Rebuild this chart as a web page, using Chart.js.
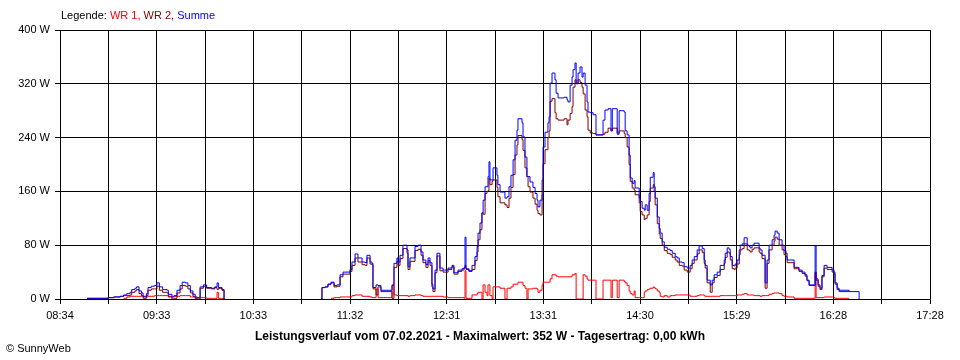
<!DOCTYPE html>
<html><head><meta charset="utf-8">
<script src="https://cdn.jsdelivr.net/npm/chart.js@4/dist/chart.umd.min.js"></script>
<style>
html,body{margin:0;padding:0;background:#fff;}
#wrap{position:relative;width:960px;height:360px;overflow:hidden;}
canvas{position:absolute;left:0;top:0;}
.txt{position:absolute;font-family:"Liberation Sans",Arial,sans-serif;font-size:11px;line-height:13px;white-space:nowrap;color:#000;}
</style></head><body>
<div id="wrap">
<canvas id="c" width="960" height="360"></canvas>
<div class="txt" style="left:61px;top:9px">Legende: <span style="color:#ff0000">WR 1,</span> <span style="color:#800000">WR 2,</span> <span style="color:#0000ff">Summe</span></div>
<div class="txt" style="left:480px;top:329px;transform:translateX(-50%);font-weight:bold;font-size:12px;line-height:14px">Leistungsverlauf vom 07.02.2021 - Maximalwert: 352 W - Tagesertrag: 0,00 kWh</div>
<div class="txt" style="left:6px;top:342px">© SunnyWeb</div>
</div>
<script>
// x tick labels (every second grid line is labelled)
const xTickLabels = ['08:34','09:33','10:33','11:32','12:31','13:31','14:30','15:29','16:28','17:28'];
const yTickStep = 80;
// minutes after 08:34
const minutes = [
  16.6,29.5,33,37,39,41,43,44,46,47,
  48.5,50,51,53,54,56,58,59.5,61,63,
  65.7,66.5,68.7,70,71.8,73.7,75,77,78.5,80,
  81.6,83,84.1,86,88,90,93,95,96.4,97.2,
  99.4,100.7,130,
  160.2,160.8,162.7,164.5,166.3,168.2,170.0,171.9,173.7,176.2,
  178.0,179.2,181.1,182.9,185.4,187.2,188.4,190.3,191.5,192.1,
  194.0,195.2,197.0,203.8,205.0,206.8,207.5,208.7,210.5,213.0,
  213.6,214.8,217.9,219.7,221.6,222.8,224.6,225.9,227.1,228.3,
  228.9,230.2,231.4,233.2,235.1,238.2,240.6,241.8,244.3,246.7,
  248.0,248.6,249.2,251.0,252.9,254.7,256.0,256.6,257.8,259.0,
  259.7,260.9,262.1,262.7,263.3,263.9,265.2,265.8,268.2,268.8,
  270.1,273.1,274.4,275.6,276.8,278.1,279.3,280.5,281.1,283.6,
  284.2,285.4,286.6,287.3,288.5,290.3,291.6,292.8,293.4,294.6,
  295.9,296.5,297.7,299.5,300.2,300.8,302.0,303.8,304.5,305.7,
  309.4,311.2,311.8,313.1,314.3,314.9,316.1,316.8,318.0,319.2,
  320.4,321.1,322.3,323.5,324.1,325.4,327.2,329.0,333.3,334.5,
  336.4,338.2,339.0,342.0,343.2,346.3,346.9,348.1,349.3,350.0,
  351.2,352.4,353.0,355.5,356.1,357.3,358.6,359.2,360.4,361.6,
  362.3,364.1,364.7,365.3,366.6,367.8,368.4,369.6,370.9,372.7,
  374.5,375.8,377.6,378.8,380.1,381.9,383.1,385.0,386.8,388.0,
  389.3,391.1,392.3,394.2,395.4,396.0,397.2,399.1,400.3,401.5,
  403.4,405.2,407.7,408.3,409.5,410.7,411.4,412.6,413.8,414.4,
  415.6,416.9,417.5,418.7,419.9,421.8,423.0,423.6,424.8,426.0,
  429.1,429.7,430.9,432.8,434.0,435.2,437.1,438.3,438.9,440.2,
  441.4,443.2,444.4,445.6,446.3,450.6,453.6,455.5,457.3,458.5,
  459.8,463.5,464.1,465.3,466.5,467.7,469.0,470.8,473.9,475.1,
  475.7,477.0,478.2,484.4,490.5
];
// Summe (W)
const summe = [
  1,2,3,4,6,8,10,14,16,18,
  12,9,4,8,17,19,20,24,18,14,
  13,7,3,5,13,20,25,24,20,12,
  7,3,2,18,21,17,16,18,24,17,
  14,0,null,
  0,17,18,22,25,20,21,36,40,40,
  44,55,67,61,55,54,65,55,53,17,
  21,20,13,21,53,61,55,65,80,73,
  48,61,78,80,70,58,51,61,54,22,
  15,43,68,46,43,46,50,39,43,45,
  47,92,45,42,50,63,78,98,113,128,
  147,167,167,182,204,177,177,195,184,170,
  159,150,152,167,184,207,236,251,268,262,
  241,211,182,182,174,166,157,147,137,147,
  177,226,248,262,271,321,336,326,306,299,
  300,296,293,318,330,341,351,321,336,345,
  330,336,318,293,278,277,274,244,266,281,
  283,250,283,245,280,278,250,244,214,180,
  172,176,165,150,145,135,132,140,132,157,
  181,188,167,150,122,105,98,85,77,74,
  72,68,63,61,55,54,48,46,50,58,
  63,73,79,75,58,50,28,21,28,36,
  40,50,58,68,76,74,63,50,49,52,
  58,73,80,82,91,80,78,76,80,83,
  76,73,65,24,58,80,88,95,101,98,
  88,80,72,68,58,47,43,40,36,28,
  21,79,30,21,16,35,50,47,43,40,
  24,16,13,11,0
];
// WR 2 (W)
const wr2 = [
  1,2,3,4,5,5,6,10,12,14,
  8,5,1,5,13,15,15,19,13,10,
  9,3,0,1,9,15,20,19,15,9,
  4,1,0,16,19,16,15,17,14,16,
  13,0,null,
  0,17,18,22,24,18,19,33,37,37,
  41,50,61,55,51,50,61,52,51,15,
  6,18,11,1,47,56,50,60,75,68,
  44,56,72,74,65,54,47,57,50,18,
  11,39,64,42,40,44,48,37,41,43,
  46,50,44,41,44,57,70,88,103,128,
  126,157,160,161,180,170,175,177,166,152,
  143,140,136,150,166,185,214,229,243,237,
  221,195,182,167,159,150,141,132,127,125,
  155,201,222,240,250,294,298,277,268,266,
  268,259,266,276,286,315,326,320,326,322,
  315,305,281,271,251,247,246,244,245,248,
  254,250,254,247,250,246,240,226,200,175,
  165,162,155,143,130,125,118,120,125,145,
  165,170,160,140,112,97,90,80,72,68,
  66,62,58,55,50,49,43,40,45,53,
  58,67,73,69,53,46,24,10,24,32,
  35,44,53,62,70,68,58,45,44,46,
  52,66,73,75,82,73,72,70,74,76,
  70,68,60,16,53,73,80,86,92,89,
  80,73,66,63,54,45,41,38,34,27,
  20,40,28,19,14,33,46,44,40,37,
  22,14,11,11,null
];
// WR 1 (W)
const wr1 = [
  null,null,null,null,1,3,4,4,4,4,
  4,4,3,3,4,4,5,5,5,5,
  5,4,4,4,4,5,5,5,5,3,
  3,2,2,2,2,1,1,1,10,1,
  1,0,null,
  null,null,null,null,1,2,2,3,3,3,
  3,5,6,6,4,4,4,3,2,2,
  15,2,2,20,6,5,5,5,5,5,
  4,5,6,6,5,4,4,4,4,4,
  4,4,4,4,3,2,2,2,2,2,
  1,42,1,1,6,6,8,10,10,0,
  21,10,5,21,21,5,0,18,18,18,
  16,0,16,16,18,22,22,22,25,25,
  20,16,0,15,15,16,16,15,10,13,
  21,25,25,25,25,30,36,36,34,33,
  33,33,33,33,36,36,38,0,0,0,
  0,36,34,30,28,28,28,0,28,28,
  28,2,28,2,28,26,24,20,12,8,
  6,12,2,2,2,2,10,12,14,15,
  16,18,17,15,12,10,4,3,5,3,
  5,5,6,6,6,6,6,6,4,4,
  4,5,6,6,5,4,4,4,4,4,
  4,5,5,5,5,5,5,5,5,5,
  6,6,6,7,8,6,6,6,6,5,
  5,4,5,5,5,7,8,9,9,9,
  8,5,4,4,3,1,1,1,1,1,
  1,39,2,2,2,2,3,3,3,2,
  1,1,1,1,null
];

const xMax = 534; // 08:34 .. 17:28 in minutes
const gridCount = 18;

function pts(arr){ return minutes.map((t,i)=>({x:t, y:arr[i]})); }

const font = {family:'"Liberation Sans", Arial, sans-serif', size:11};

new Chart(document.getElementById('c'), {
  type:'line',
  data:{datasets:[
    {label:'Summe', data:pts(summe), borderColor:'#0000ff', order:0},
    {label:'WR 2', data:pts(wr2), borderColor:'#800000', order:1},
    {label:'WR 1', data:pts(wr1), borderColor:'#ff0000', order:2}
  ]},
  options:{
    responsive:false, animation:false, devicePixelRatio:1,
    layout:{padding:{left:0,right:30,top:30,bottom:36}},
    elements:{line:{borderWidth:1, stepped:'before', fill:false, tension:0}, point:{radius:0}},
    spanGaps:false,
    plugins:{legend:{display:false}, tooltip:{enabled:false}, title:{display:false}},
    scales:{
      x:{type:'linear', min:0, max:xMax,
        afterBuildTicks:(s)=>{ const t=[]; for(let i=0;i<=gridCount;i++) t.push({value:i*xMax/gridCount}); s.ticks=t; },
        afterFit:(s)=>{ s.height=25; },
        ticks:{autoSkip:false, maxRotation:0, minRotation:0, padding:5, color:'#000', font:font,
          callback:(v,i)=> (i%2===0 ? xTickLabels[i/2] : '')},
        grid:{color:'#000', lineWidth:1, tickLength:5, drawTicks:true},
        border:{color:'#000', width:1}
      },
      y:{min:0, max:400,
        afterFit:(s)=>{ s.width=60; },
        ticks:{stepSize:yTickStep, padding:5, color:'#000', font:font, callback:(v)=> v+' W'},
        grid:{color:'#000', lineWidth:1, tickLength:5, drawTicks:true},
        border:{color:'#000', width:1}
      }
    }
  }
});
</script>
</body></html>
